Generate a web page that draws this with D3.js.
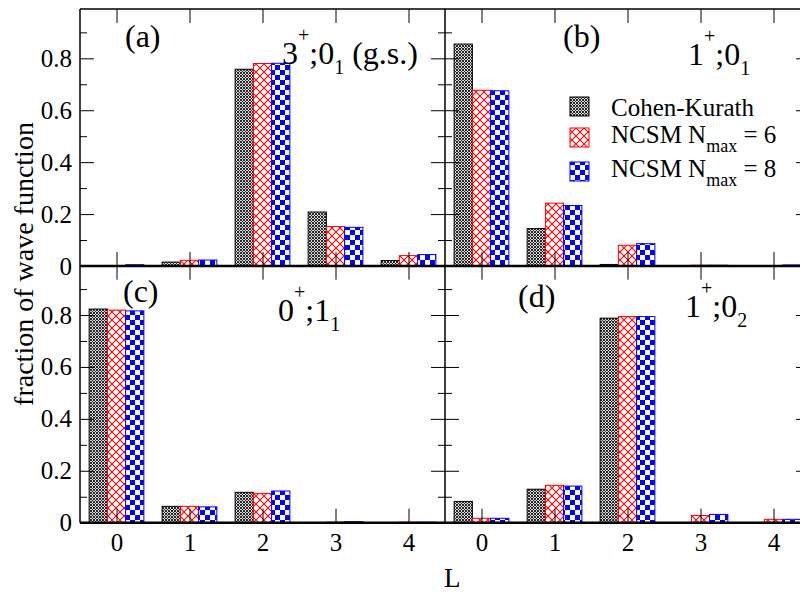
<!DOCTYPE html>
<html>
<head>
<meta charset="utf-8">
<script src="https://cdn.jsdelivr.net/npm/d3@7"></script>
<style>
  body { margin: 0; background: #fff; }
  svg, svg text { font-family: "Liberation Serif", "Times New Roman", serif; }
  svg { display: block; }
</style>
</head>
<body>
<svg id="chart" width="800" height="593"></svg>
<script>
// L values on the x axis
const Lvals = [0, 1, 2, 3, 4];
const yMajor = [0, 0.2, 0.4, 0.6, 0.8];
const yMinor = [0.1, 0.3, 0.5, 0.7, 0.9];

// Series: Cohen-Kurath, NCSM Nmax=6, NCSM Nmax=8
const seriesKeys = ["ck", "n6", "n8"];

// (a) 3+;0_1 (g.s.)
const ck_a = [0, 0.015, 0.758, 0.208, 0.021];
const n6_a = [0, 0.022, 0.780, 0.152, 0.040];
const n8_a = [0.005, 0.023, 0.781, 0.149, 0.044];
// (b) 1+;0_1
const ck_b = [0.855, 0.144, 0.006, 0, 0];
const n6_b = [0.677, 0.242, 0.080, 0.003, 0];
const n8_b = [0.675, 0.233, 0.086, 0.003, 0.004];
// (c) 0+;1_1
const ck_c = [0.823, 0.063, 0.117, 0, 0];
const n6_c = [0.819, 0.063, 0.113, 0.002, 0.002];
const n8_c = [0.816, 0.061, 0.122, 0.004, 0.002];
// (d) 1+;0_2
const ck_d = [0.082, 0.129, 0.788, 0, 0];
const n6_d = [0.017, 0.144, 0.794, 0.028, 0.013];
const n8_d = [0.017, 0.141, 0.794, 0.032, 0.013];

const panels = [
  { tag: "(a)", col: 0, row: 0, vals: [ck_a, n6_a, n8_a],
    state: [["3"], ["+", "sup"], [";0"], ["1", "sub"], [" (g.s.)"]] },
  { tag: "(b)", col: 1, row: 0, vals: [ck_b, n6_b, n8_b],
    state: [["1"], ["+", "sup"], [";0"], ["1", "sub"]] },
  { tag: "(c)", col: 0, row: 1, vals: [ck_c, n6_c, n8_c],
    state: [["0"], ["+", "sup"], [";1"], ["1", "sub"]] },
  { tag: "(d)", col: 1, row: 1, vals: [ck_d, n6_d, n8_d],
    state: [["1"], ["+", "sup"], [";0"], ["2", "sub"]] }
];

const legendRows = [
  { key: "ck", text: "Cohen-Kurath" },
  { key: "n6", text: "NCSM N", sub: "max", tail: " = 6" },
  { key: "n8", text: "NCSM N", sub: "max", tail: " = 8" }
];

// Layout
const colX = [80, 445];
const rowY = [9, 265.7];
const pw = 365, ph = 257;
const tagPos = [[125, 47], [563, 47], [123, 302], [518, 307]];
const statePos = [[282, 64], [688, 65], [278, 321], [685, 317]];

const strokeCol = { ck: "#000", n6: "#ff0000", n8: "#0000ff" };

const svg = d3.select("#chart");
const defs = svg.append("defs");

// Cohen-Kurath: fine dark checker
const pCk = defs.append("pattern").attr("id", "pat-ck")
  .attr("patternUnits", "userSpaceOnUse").attr("width", 3).attr("height", 3);
pCk.append("rect").attr("width", 3).attr("height", 3).attr("fill", "#d8d8d8");
pCk.append("rect").attr("width", 2).attr("height", 2).attr("fill", "#2a2a2a");
pCk.append("rect").attr("x", 2).attr("y", 2).attr("width", 1).attr("height", 1).attr("fill", "#2a2a2a");

// NCSM 6: red crosshatch
const pN6 = defs.append("pattern").attr("id", "pat-n6")
  .attr("patternUnits", "userSpaceOnUse").attr("width", 8).attr("height", 8);
pN6.append("rect").attr("width", 8).attr("height", 8).attr("fill", "#fff");
pN6.append("path").attr("d", "M0,0L8,8M8,0L0,8")
  .attr("stroke", "#ff0000").attr("stroke-width", 1.1);

// NCSM 8: blue checkerboard
const pN8 = defs.append("pattern").attr("id", "pat-n8")
  .attr("patternUnits", "userSpaceOnUse").attr("width", 10).attr("height", 10);
pN8.append("rect").attr("width", 10).attr("height", 10).attr("fill", "#fff");
pN8.append("rect").attr("width", 5).attr("height", 5).attr("fill", "#0000ff");
pN8.append("rect").attr("x", 5).attr("y", 5).attr("width", 5).attr("height", 5).attr("fill", "#0000ff");

const barLayer = svg.append("g");
const axisLayer = svg.append("g");
const frameLayer = svg.append("g");
const textLayer = svg.append("g");

const offsets = [-0.25, 0, 0.25];
const fmtY = d => (d === 0 ? "0" : d3.format(".1f")(d));

function styleAxis(g) {
  g.attr("font-family", null).attr("font-size", null);
  g.select(".domain").remove();
  g.selectAll(".tick line").attr("stroke", "#000").attr("stroke-width", 1);
  g.selectAll(".tick text")
    .attr("fill", "#000")
    .style("font-family", '"Liberation Serif", "Times New Roman", serif')
    .style("font-size", "25px");
}

panels.forEach((p, i) => {
  const x0 = colX[p.col], y0 = rowY[p.row];
  const x = d3.scaleLinear().domain([-0.5, 4.5]).range([x0, x0 + pw]);
  const y = d3.scaleLinear().domain([0, 0.99]).range([y0 + ph, y0]);
  const bw = x(0.25) - x(0);

  // bars
  seriesKeys.forEach((key, s) => {
    barLayer.append("g").selectAll("rect")
      .data(p.vals[s].map((v, j) => ({ L: Lvals[j], v })))
      .join("rect")
      .attr("x", d => x(d.L + offsets[s]) - bw / 2)
      .attr("width", bw)
      .attr("y", d => y(d.v))
      .attr("height", d => y(0) - y(d.v))
      .attr("fill", "url(#pat-" + key + ")")
      .attr("stroke", strokeCol[key])
      .attr("stroke-width", 1);
  });

  // axes (inward ticks)
  axisLayer.append("g")
    .attr("transform", `translate(0,${y0 + ph})`)
    .call(d3.axisBottom(x).tickValues(Lvals).tickSize(-14).tickPadding(10.5)
      .tickFormat(p.row === 1 ? d3.format("d") : ""))
    .call(styleAxis);
  axisLayer.append("g")
    .attr("transform", `translate(0,${y0})`)
    .call(d3.axisTop(x).tickValues(Lvals).tickSize(-14).tickFormat(""))
    .call(styleAxis);
  axisLayer.append("g")
    .attr("transform", `translate(${x0},0)`)
    .call(d3.axisLeft(y).tickValues(yMajor).tickSize(-14).tickPadding(8)
      .tickFormat(p.col === 0 ? fmtY : ""))
    .call(styleAxis);
  axisLayer.append("g")
    .attr("transform", `translate(${x0},0)`)
    .call(d3.axisLeft(y).tickValues(yMinor).tickSize(-7).tickFormat(""))
    .call(styleAxis);
  axisLayer.append("g")
    .attr("transform", `translate(${x0 + pw},0)`)
    .call(d3.axisRight(y).tickValues(yMajor).tickSize(-14).tickFormat(""))
    .call(styleAxis);
  axisLayer.append("g")
    .attr("transform", `translate(${x0 + pw},0)`)
    .call(d3.axisRight(y).tickValues(yMinor).tickSize(-7).tickFormat(""))
    .call(styleAxis);

  // panel tag
  textLayer.append("text")
    .attr("x", tagPos[i][0]).attr("y", tagPos[i][1])
    .attr("font-size", 32).text(p.tag);

  // state label with super/subscripts
  const st = textLayer.append("text")
    .attr("x", statePos[i][0]).attr("y", statePos[i][1])
    .attr("font-size", 32);
  let shift = 0;
  p.state.forEach(([t, kind]) => {
    const target = kind === "sup" ? -22 : kind === "sub" ? 10 : 0;
    st.append("tspan")
      .attr("dy", target - shift)
      .attr("font-size", kind ? 20 : 32)
      .text(t);
    shift = target;
  });
});

// frame
const xL = colX[0], xR = colX[1] + pw;
const frame = [
  [xL, rowY[0], xR, rowY[0], 1.5],
  [xL, rowY[0] + ph, xR, rowY[0] + ph, 2.5],
  [xL, rowY[1] + ph, xR, rowY[1] + ph, 2.5],
  [xL, rowY[0], xL, rowY[1] + ph, 1.5],
  [colX[1], rowY[0], colX[1], rowY[1] + ph, 1.5],
  [xR, rowY[0], xR, rowY[1] + ph, 1.5]
];
frameLayer.selectAll("line").data(frame).join("line")
  .attr("x1", d => d[0]).attr("y1", d => d[1])
  .attr("x2", d => d[2]).attr("y2", d => d[3])
  .attr("stroke", "#000").attr("stroke-width", d => d[4]);

// legend in panel (b)
const legY = [97, 128, 162];
const legBase = [115.5, 143, 177];
legendRows.forEach((r, i) => {
  textLayer.append("rect")
    .attr("x", 570).attr("y", legY[i]).attr("width", 19).attr("height", 19)
    .attr("fill", "url(#pat-" + r.key + ")")
    .attr("stroke", strokeCol[r.key]).attr("stroke-width", 1);
  const t = textLayer.append("text")
    .attr("x", 611).attr("y", legBase[i]).attr("font-size", 25);
  t.append("tspan").text(r.text);
  if (r.sub) {
    t.append("tspan").attr("dy", 9).attr("font-size", 18).text(r.sub);
    t.append("tspan").attr("dy", -9).text(r.tail);
  }
});

// axis titles
textLayer.append("text")
  .attr("transform", "translate(33,264) rotate(-90)")
  .attr("text-anchor", "middle")
  .attr("font-size", 28)
  .text("fraction of wave function");
textLayer.append("text")
  .attr("x", 444).attr("y", 587)
  .attr("font-size", 27)
  .text("L");
</script>
</body>
</html>
